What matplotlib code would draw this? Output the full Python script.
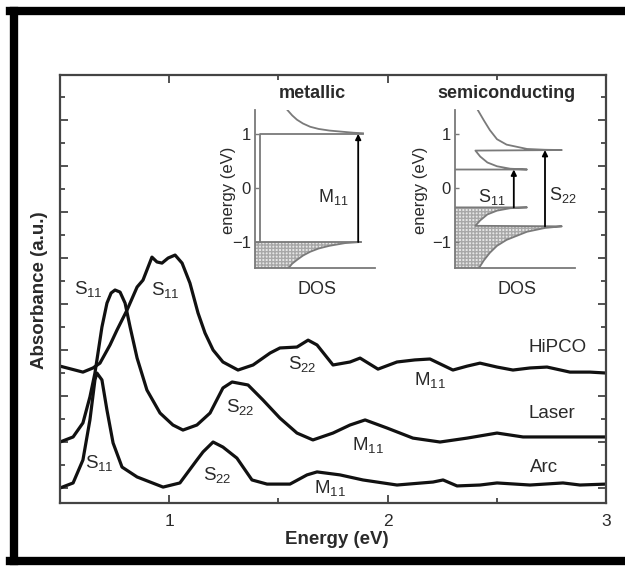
import matplotlib
matplotlib.use('Agg')
import matplotlib.pyplot as plt
from matplotlib.ticker import FixedLocator
from matplotlib.lines import Line2D

plt.rcParams['font.family'] = ['Liberation Sans', 'DejaVu Sans']
plt.rcParams['mathtext.default'] = 'regular'

# ---------------- data ----------------
hipco_e = [0.500, 0.605, 0.651, 0.683, 0.729, 0.761, 0.807, 0.853, 0.880, 0.921,
           0.944, 0.967, 0.995, 1.027, 1.059, 1.095, 1.132, 1.164, 1.201, 1.246,
           1.315, 1.384, 1.462, 1.507, 1.585, 1.636, 1.677, 1.750, 1.828, 1.874,
           1.956, 2.043, 2.125, 2.194, 2.299, 2.364, 2.423, 2.501, 2.574, 2.652,
           2.730, 2.835, 2.927, 3.000]
hipco_y = [6.30, 6.04, 6.22, 6.43, 7.22, 7.87, 8.74, 9.74, 10.04, 11.04,
           10.83, 10.78, 11.00, 11.13, 10.78, 9.91, 8.61, 7.74, 7.00, 6.48,
           6.13, 6.35, 6.87, 7.09, 7.13, 7.43, 7.22, 6.35, 6.48, 6.65,
           6.17, 6.48, 6.57, 6.61, 6.13, 6.30, 6.43, 6.26, 6.13, 6.22,
           6.26, 6.04, 6.04, 6.00]

laser_e = [0.500, 0.560, 0.605, 0.637, 0.660, 0.692, 0.715, 0.734, 0.752, 0.775,
           0.798, 0.821, 0.853, 0.898, 0.958, 1.017, 1.063, 1.127, 1.187, 1.246,
           1.288, 1.361, 1.429, 1.507, 1.585, 1.658, 1.750, 1.828, 1.897, 1.997,
           2.116, 2.240, 2.364, 2.501, 2.620, 2.803, 3.000]
laser_y = [3.00, 3.22, 3.83, 4.96, 6.00, 8.00, 9.04, 9.48, 9.61, 9.52,
           9.04, 8.00, 6.65, 5.26, 4.26, 3.74, 3.52, 3.74, 4.26, 5.35,
           5.61, 5.48, 4.83, 4.04, 3.39, 3.09, 3.39, 3.74, 3.96, 3.61,
           3.17, 3.00, 3.17, 3.39, 3.22, 3.22, 3.22]

arc_e = [0.500, 0.560, 0.605, 0.637, 0.660, 0.669, 0.692, 0.715, 0.743, 0.784,
         0.853, 0.972, 1.049, 1.127, 1.155, 1.201, 1.246, 1.310, 1.379, 1.448,
         1.553, 1.631, 1.677, 1.782, 1.887, 2.043, 2.208, 2.254, 2.318, 2.423,
         2.501, 2.652, 2.803, 2.881, 3.000]
arc_y = [1.00, 1.22, 2.22, 3.96, 5.70, 6.00, 5.70, 4.39, 2.96, 1.91,
         1.48, 1.04, 1.22, 2.22, 2.57, 3.00, 2.78, 2.30, 1.35, 1.17,
         1.17, 1.57, 1.70, 1.57, 1.35, 1.13, 1.26, 1.35, 1.09, 1.13,
         1.22, 1.13, 1.22, 1.13, 1.17]

x_ticks = [1, 2, 3]
x_tick_labels = ['1', '2', '3']

# series names and peak annotations: (text, energy, absorbance)
series_names = [('HiPCO', 2.776, 7.09), ('Laser', 2.753, 4.26), ('Arc', 2.716, 1.91)]
peak_labels = [('S$_{11}$', 0.628, 9.65), ('S$_{11}$', 0.981, 9.61), ('S$_{11}$', 0.679, 2.09),
               ('S$_{22}$', 1.608, 6.39), ('S$_{22}$', 1.324, 4.52), ('S$_{22}$', 1.219, 1.57),
               ('M$_{11}$', 2.194, 5.70), ('M$_{11}$', 1.910, 2.87), ('M$_{11}$', 1.736, 1.00)]

# inset DOS sketches (DOS, energy)
met_upper_dos = [0.27, 0.31, 0.35, 0.40, 0.46, 0.53, 0.62, 0.72, 0.82, 0.90]
met_upper_e = [1.44, 1.34, 1.26, 1.19, 1.13, 1.09, 1.06, 1.04, 1.02, 1.01]
met_lower_dos = [0.88, 0.75, 0.62, 0.53, 0.46, 0.40, 0.35, 0.31, 0.28]
met_lower_e = [-1.00, -1.02, -1.07, -1.12, -1.18, -1.25, -1.33, -1.40, -1.48]

sc_cond_dos = [0.0, 0.60, 0.46, 0.35, 0.27, 0.21, 0.17,
               0.89, 0.75, 0.60, 0.43, 0.35, 0.29, 0.24, 0.19]
sc_cond_e = [0.34, 0.34, 0.355, 0.40, 0.47, 0.58, 0.69,
             0.70, 0.705, 0.72, 0.80, 0.90, 1.07, 1.25, 1.44]
sc_val_dos = [0.0, 0.60, 0.46, 0.35, 0.27, 0.21, 0.17,
              0.89, 0.75, 0.60, 0.43, 0.35, 0.29, 0.24, 0.20]
sc_val_e = [-0.36, -0.36, -0.375, -0.42, -0.49, -0.60, -0.70,
            -0.71, -0.74, -0.81, -0.96, -1.07, -1.20, -1.34, -1.48]

# ---------------- figure ----------------
W, H = 625, 566
fig = plt.figure(figsize=(W / 100, H / 100), dpi=100)
fig.patch.set_facecolor('white')

def fx(px):
    return px / W

def fy(py):
    return 1 - py / H

# outer black frame (left, top, bottom bands)
fig.add_artist(Line2D([fx(14), fx(14)], [fy(11), fy(561)], color='black', lw=6, transform=fig.transFigure))
fig.add_artist(Line2D([fx(10), fx(625)], [fy(11), fy(11)], color='black', lw=6, transform=fig.transFigure))
fig.add_artist(Line2D([fx(10), fx(625)], [fy(561), fy(561)], color='black', lw=6, transform=fig.transFigure))

ax = fig.add_axes([fx(60), fy(503), 546 / W, 428 / H])
txt = '#2a2a2a'
for e, y in [(hipco_e, hipco_y), (laser_e, laser_y), (arc_e, arc_y)]:
    ax.plot(e, y, color='#111111', lw=2.3, solid_joinstyle='round', solid_capstyle='round')

ax.set_xlim(0.5, 3.0)
ax.set_ylim(0.348, 18.96)
ax.set_xticks(x_ticks)
ax.set_xticklabels(x_tick_labels)
ax.xaxis.set_minor_locator(FixedLocator([1.5, 2.5]))
ax.set_yticks(list(range(1, 18, 2)))
ax.set_yticklabels([])
ax.yaxis.set_minor_locator(FixedLocator(list(range(2, 19, 2))))
ax.tick_params(which='both', direction='in', top=True, right=True, colors='#444444',
               labelcolor=txt, labelsize=12.5, width=1.3)
ax.tick_params(which='major', length=6, pad=8)
ax.tick_params(which='minor', length=3.5)
for s in ax.spines.values():
    s.set_color('#444444')
    s.set_linewidth(1.6)

fig.text(fx(337), fy(540), 'Energy (eV)', ha='center', va='center', fontsize=13.5,
         fontweight='bold', color=txt)
fig.text(fx(40), fy(290), 'Absorbance (a.u.)', ha='center', va='center', rotation=90,
         fontsize=13.5, fontweight='bold', color=txt)

for name, e, y in series_names:
    ax.text(e, y, name, ha='center', va='center', fontsize=13.5, color=txt)
for lab, e, y in peak_labels:
    ax.text(e, y, lab, ha='center', va='center', fontsize=13.5, color=txt)

# ---------------- insets ----------------
gray = '#7a7a7a'

def make_inset(left_px, title, title_x, ylabel_x):
    a = fig.add_axes([fx(left_px), fy(268), 120 / W, 158 / H])
    a.set_xlim(0, 1)
    a.set_ylim(-1.48, 1.44)
    a.patch.set_alpha(0)
    a.spines['top'].set_visible(False)
    a.spines['right'].set_visible(False)
    for s in ['left', 'bottom']:
        a.spines[s].set_color(gray)
        a.spines[s].set_linewidth(1.3)
    a.set_xticks([])
    a.set_yticks([-1, 0, 1])
    a.set_yticklabels(['\u22121', '0', '1'])
    a.tick_params(axis='y', direction='in', length=3, width=1, colors=gray,
                  labelcolor=txt, labelsize=12, pad=3)
    fig.text(fx(title_x), fy(94), title, ha='center', va='center', fontsize=13,
             fontweight='bold', color=txt)
    fig.text(fx(left_px + 62), fy(290), 'DOS', ha='center', va='center', fontsize=13, color=txt)
    fig.text(fx(ylabel_x), fy(190), 'energy (eV)', ha='center', va='center', rotation=90,
             fontsize=12, color=txt)
    return a

def arrow(a, x, y0, y1):
    a.annotate('', xy=(x, y1), xytext=(x, y0),
               arrowprops=dict(arrowstyle='-|>', color='black', lw=1.3,
                               mutation_scale=8, shrinkA=0, shrinkB=0))

# metallic
am = make_inset(255, 'metallic', 312, 229)
am.fill_betweenx(met_lower_e, [0] * len(met_lower_e), met_lower_dos,
                 facecolor='#e6e6e6', edgecolor='#a8a8a8', hatch='+++++', linewidth=0)
am.plot(met_upper_dos, met_upper_e, color=gray, lw=1.3)
am.plot(met_lower_dos, met_lower_e, color=gray, lw=1.3)
am.plot([0.9, 0.04, 0.04, 0.88], [1.0, 1.0, -1.0, -1.0], color=gray, lw=1.3)
am.plot([0.0, 0.04], [-1.0, -1.0], color=gray, lw=1.3)
arrow(am, 0.86, -1.0, 1.0)
am.text(0.65, -0.17, 'M$_{11}$', ha='center', va='center', fontsize=13, color=txt)

# semiconducting
asc = make_inset(455, 'semiconducting', 506, 420)
asc.fill_betweenx(sc_val_e, [0] * len(sc_val_e), sc_val_dos,
                  facecolor='#e6e6e6', edgecolor='#a8a8a8', hatch='+++++', linewidth=0)
asc.plot(sc_cond_dos, sc_cond_e, color=gray, lw=1.3)
asc.plot(sc_val_dos, sc_val_e, color=gray, lw=1.3)
arrow(asc, 0.49, -0.36, 0.34)
arrow(asc, 0.75, -0.71, 0.70)
asc.text(0.31, -0.17, 'S$_{11}$', ha='center', va='center', fontsize=13, color=txt)
asc.text(0.90, -0.13, 'S$_{22}$', ha='center', va='center', fontsize=13, color=txt)

fig.savefig('out.png', dpi=100)
